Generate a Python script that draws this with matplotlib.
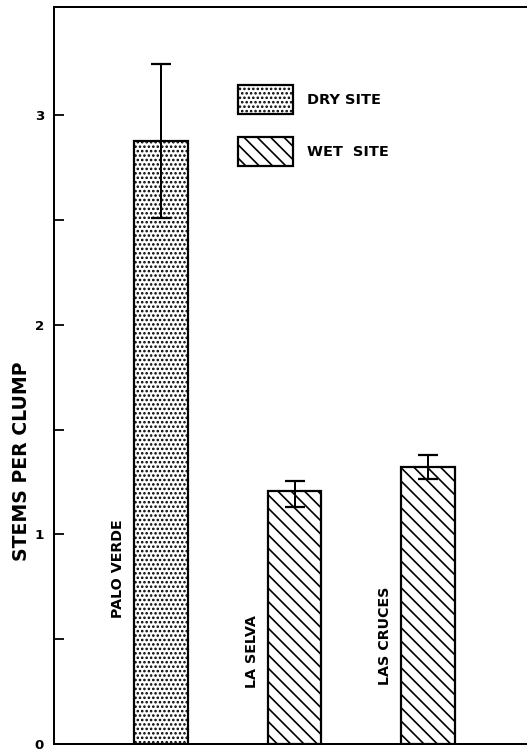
import matplotlib
matplotlib.use("Agg")
import matplotlib.pyplot as plt
from matplotlib.patches import Patch

# ---- data ----
sites = ["PALO VERDE", "LA SELVA", "LAS CRUCES"]
site_type = ["dry", "wet", "wet"]
stems_per_clump = [2.878, 1.209, 1.320]
err_lower = [0.368, 0.080, 0.055]
err_upper = [0.366, 0.048, 0.061]
y_ticks = [0, 0.5, 1, 1.5, 2, 2.5, 3]
y_tick_labels = ["0", "", "1", "", "2", "", "3"]
legend_labels = {"dry": "DRY SITE", "wet": "WET  SITE"}

# ---- layout / style ----
DPI = 80
W, H = 527, 754
hatches = {"dry": "...", "wet": "\\\\"}
label_centers = [0.836, 0.44, 0.516]  # vertical centre of rotated site labels

plt.rcParams["font.family"] = ["DejaVu Sans"]
plt.rcParams["hatch.linewidth"] = 1.5

fig = plt.figure(figsize=(W / DPI, H / DPI), dpi=DPI)
ax = fig.add_axes([54 / W, (H - 744) / H, 1 - 54 / W, (744 - 7) / H])

x = list(range(len(sites)))
bars = ax.bar(x, stems_per_clump, width=0.4, color="white", edgecolor="black",
              linewidth=2.0, zorder=2)
for b, t in zip(bars, site_type):
    b.set_hatch(hatches[t])

ax.errorbar(x, stems_per_clump, yerr=[err_lower, err_upper], fmt="none",
            ecolor="black", elinewidth=1.8, capsize=9, capthick=2.0, zorder=3)

for xi, name, yc in zip(x, sites, label_centers):
    ax.text(xi - 0.32, yc, name, rotation=90, ha="center", va="center",
            fontsize=12.8, fontweight="bold")

ax.set_xlim(-0.80, 2.74)
ax.set_ylim(0, 3.517)
ax.set_yticks(y_ticks)
ax.set_yticklabels(y_tick_labels, fontweight="bold", fontsize=12)
ax.set_xticks([])
ax.tick_params(axis="y", direction="in", length=9, width=1.6, pad=9)

for s in ["left", "bottom", "top"]:
    ax.spines[s].set_linewidth(1.8)
ax.spines["right"].set_visible(False)

ax.text(-0.068, 1.347, "STEMS PER CLUMP", transform=ax.get_yaxis_transform(),
        rotation=90, ha="center", va="center", fontsize=17, fontweight="bold")

handles = [Patch(facecolor="white", edgecolor="black", hatch=hatches[k], linewidth=2.0)
           for k in ["dry", "wet"]]
leg = ax.legend(handles, [legend_labels["dry"], legend_labels["wet"]],
                loc="upper left", bbox_to_anchor=(238 / W, 1 - 85 / H),
                bbox_transform=fig.transFigure, frameon=False, borderpad=0,
                borderaxespad=0, handlelength=3.8, handleheight=2.715,
                labelspacing=1.58, handletextpad=1.0,
                prop={"weight": "bold", "size": 13})

fig.savefig("out.png", dpi=DPI)
